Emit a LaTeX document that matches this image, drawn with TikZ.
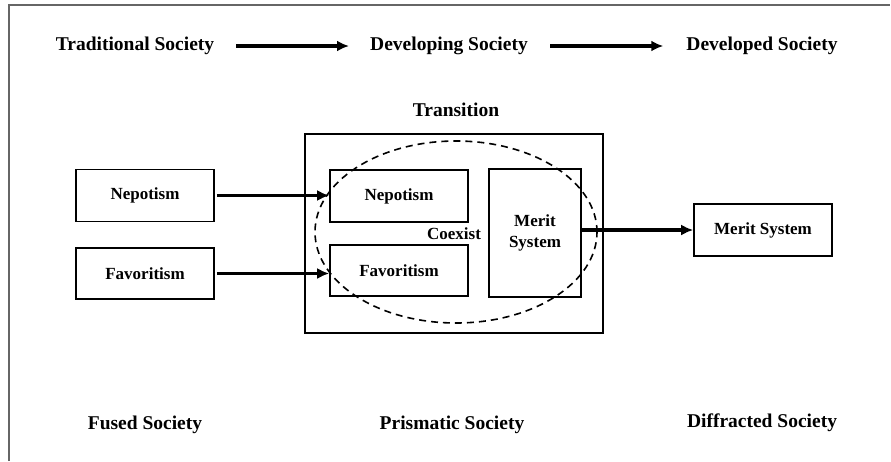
\documentclass[tikz,border=0pt]{standalone}
\usepackage{fontspec}
\setmainfont{Liberation Serif}
\usetikzlibrary{arrows.meta,shapes.geometric}
\tikzset{
  head/.style={font=\bfseries\fontsize{19.5}{22}\selectfont, inner sep=0pt},
  boxlabel/.style={draw, line width=1.6pt, font=\bfseries\fontsize{17}{21}\selectfont, align=center, inner sep=0pt},
  bigarrow/.style={line width=3.4pt, -{Latex[length=12pt,width=11pt]}},
  frameline/.style={draw=black!60, line width=1.2pt}
}
\begin{document}
\begin{tikzpicture}[x=1pt,y=-1pt]
\useasboundingbox (0,0) rectangle (891,461);
\draw[frameline] (9,461) -- (9,5) -- (890,5);
% top row
\node[head] (trad) at (135,46) {Traditional Society};
\node[head] (devg) at (449,46) {Developing Society};
\node[head] (devd) at (762,46) {Developed Society};
\draw[bigarrow, shorten <=22pt, shorten >=21pt] (trad) -- (devg);
\draw[bigarrow, shorten <=22pt, shorten >=23pt] (devg) -- (devd);
% transition
\node[head] (trans) at (456,110) {Transition};
\node[draw, line width=1.6pt, minimum width=298pt, minimum height=199pt, inner sep=0pt] (outer) at (454,233.5) {};
\node[boxlabel, minimum width=138pt, minimum height=52pt] (nepI) at (399,196) {Nepotism};
\node[boxlabel, minimum width=138pt, minimum height=51pt] (favI) at (399,270.5) {Favoritism};
\node[boxlabel, minimum width=92pt, minimum height=128pt] (merI) at (535,233) {Merit\\System};
\node[font=\bfseries\fontsize{17}{20}\selectfont, inner sep=0pt] (coex) at (454,234) {Coexist};
\node[draw, dash pattern=on 7pt off 5pt, line width=1.6pt, ellipse, minimum width=282pt, minimum height=182pt, inner sep=0pt] (oval) at (456,232) {};
% left
\node[boxlabel, minimum width=138pt, minimum height=52pt] (nepL) at (145,195.5) {Nepotism};
\node[boxlabel, minimum width=138pt, minimum height=51pt] (favL) at (145,273.5) {Favoritism};
\draw[bigarrow, shorten <=2pt] (nepL.east) -- (nepL.east -| nepI.west);
\draw[bigarrow, shorten <=2pt] (favL.east) -- (favL.east -| favI.west);
% right
\node[boxlabel, minimum width=138pt, minimum height=52pt] (merR) at (763,230) {Merit System};
\draw[bigarrow] (merI.east |- merR.west) -- (merR.west);
% bottom
\node[head] (fused) at (145,425) {Fused Society};
\node[head] (prism) at (452,425) {Prismatic Society};
\node[head] (diff) at (762,423) {Diffracted Society};
\end{tikzpicture}
\end{document}
